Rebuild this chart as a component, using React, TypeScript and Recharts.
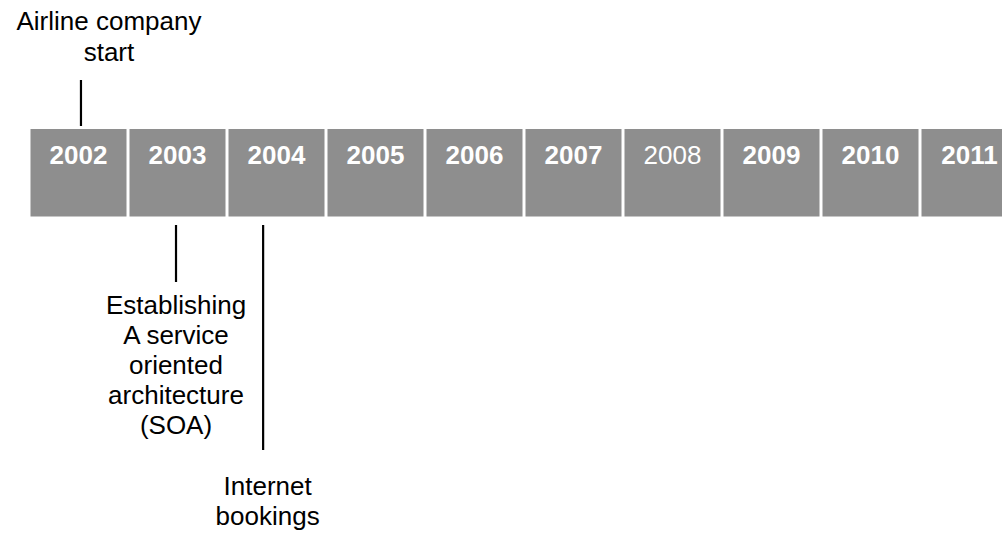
import { BarChart, Bar, XAxis, YAxis, LabelList, ReferenceDot } from 'recharts';

const years = ['2002', '2003', '2004', '2005', '2006', '2007', '2008', '2009', '2010', '2011'];
const plainYears = ['2008'];

// milestones: position along the timeline as a fractional year
const eventLabels = [
  ['Airline company', 'start'],
  ['Establishing', 'A service', 'oriented', 'architecture', '(SOA)'],
  ['Internet', 'bookings'],
];
const eventYears = [2002.03, 2002.99, 2003.87];
const eventSides = ['above', 'below', 'below'];

// callout drawing: gap from the box, stick length, text offset
const calloutStyles = [
  { gap: 3, stick: 46, textDx: 28, textDy: 99 },
  { gap: 8.5, stick: 57, textDx: 0, textDy: 97.5 },
  { gap: 8.5, stick: 225, textDx: 4.5, textDy: 278 },
];

const data = years.map((year) => ({ year, value: 1, t: Number(year) }));

const FONT = '"Liberation Sans", Arial, sans-serif';

function YearLabel(props: any) {
  const { x, y, width, value } = props;
  const plain = plainYears.includes(String(value));
  return (
    <text
      x={x + width / 2}
      y={y + 35}
      textAnchor="middle"
      fill="#ffffff"
      fontSize={26}
      fontFamily={FONT}
      fontWeight={plain ? 'normal' : 'bold'}
    >
      {value}
    </text>
  );
}

function makeCallout(i: number) {
  const lines = eventLabels[i];
  const side = eventSides[i];
  const st = calloutStyles[i];
  return (props: any) => {
    const { cx, cy } = props;
    const dir = side === 'above' ? -1 : 1;
    const y1 = cy + dir * st.gap;
    const y2 = y1 + dir * st.stick;
    const tx = cx + st.textDx;
    const lineH = side === 'above' ? 31 : 30;
    const firstBase = side === 'above'
      ? cy - st.textDy
      : cy + st.textDy;
    return (
      <g>
        <line x1={cx} y1={y1} x2={cx} y2={y2} stroke="#000" strokeWidth={2.2} />
        <text textAnchor="middle" fontSize={26} fontFamily={FONT} fill="#000">
          {lines.map((l, k) => (
            <tspan key={k} x={tx} y={firstBase + k * lineH}>{l}</tspan>
          ))}
        </text>
      </g>
    );
  };
}

export default function App() {
  return (
    <div style={{ position: 'absolute', left: 0, top: 0, width: 1002, height: 533, overflow: 'hidden', background: '#fff' }}>
      <BarChart
        width={1019}
        height={533}
        data={data}
        margin={{ top: 129, right: 0.5, bottom: 316.5, left: 28.5 }}
      >
        <XAxis dataKey="year" hide />
        <XAxis
          xAxisId="t"
          dataKey="t"
          type="number"
          domain={[2001.5, 2011.5]}
          allowDataOverflow
          hide
        />
        <YAxis hide domain={[0, 1]} />
        <Bar dataKey="value" fill="#8e8e8e" barSize={96} isAnimationActive={false}>
          <LabelList dataKey="year" content={YearLabel} />
        </Bar>
        {eventYears.map((ey, i) => (
          <ReferenceDot
            key={i}
            xAxisId="t"
            x={ey}
            y={eventSides[i] === 'above' ? 1 : 0}
            ifOverflow="visible"
            shape={makeCallout(i)}
          />
        ))}
      </BarChart>
    </div>
  );
}
